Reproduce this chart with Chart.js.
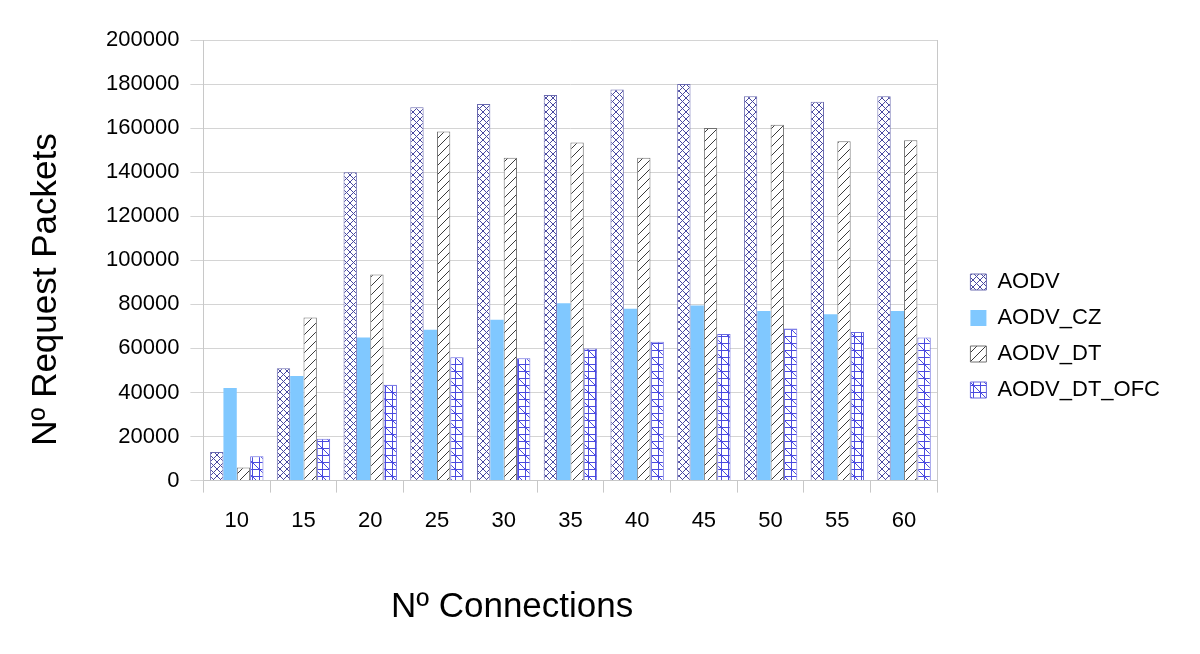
<!DOCTYPE html>
<html>
<head>
    <title>Request Packets</title>
    <script src="https://cdn.jsdelivr.net/npm/chart.js"></script>
    <style>
        body { margin: 0; background: #fff; }
        #wrap { width: 1200px; height: 654px; }
    </style>
</head>
<body>
    <div id="wrap">
        <canvas id="packetChart"></canvas>
    </div>

    <script>
        const connections = ['10', '15', '20', '25', '30', '35', '40', '45', '50', '55', '60'];
        const aodv = [13000, 51000, 140000, 169500, 171000, 175000, 177500, 180000, 174500, 172000, 174500];
        const aodvCz = [42000, 47500, 65000, 68500, 73000, 80500, 78000, 79500, 77000, 75500, 77000];
        const aodvDt = [6000, 74000, 93500, 158500, 146500, 153500, 146500, 160000, 161500, 154000, 154500];
        const aodvDtOfc = [11000, 19000, 43500, 56000, 55500, 60000, 63000, 66500, 69000, 67500, 65000];
        const yTicks = [0, 20000, 40000, 60000, 80000, 100000, 120000, 140000, 160000, 180000, 200000];

        const FONT = 'Liberation Sans, Arial, sans-serif';
        const NB = '\u00a0';

        // small tiles used as hatch fills
        function hatch(w, h, draw) {
            const c = document.createElement('canvas');
            c.width = w;
            c.height = h;
            const g = c.getContext('2d');
            g.fillStyle = '#ffffff';
            g.fillRect(0, 0, w, h);
            g.lineWidth = 1;
            draw(g);
            return g.createPattern(c, 'repeat');
        }

        const crossFill = hatch(7, 7, g => {
            g.strokeStyle = '#4848a0';
            g.beginPath();
            g.moveTo(0, 0); g.lineTo(7, 7);
            g.moveTo(0, 7); g.lineTo(7, 0);
            g.stroke();
        });

        const slashFill = hatch(9, 9, g => {
            g.strokeStyle = '#3a3a3a';
            g.beginPath();
            g.moveTo(-1, 10); g.lineTo(10, -1);
            g.stroke();
        });

        const gridFill = hatch(14, 14, g => {
            g.strokeStyle = '#4a4ae0';
            g.beginPath();
            g.moveTo(0.5, 0); g.lineTo(0.5, 14);
            g.moveTo(7.5, 0); g.lineTo(7.5, 14);
            g.moveTo(0, 0.5); g.lineTo(14, 0.5);
            g.moveTo(0, 7.5); g.lineTo(14, 7.5);
            g.moveTo(0, 0); g.lineTo(14, 14);
            g.stroke();
        });

        // right edge of the plot frame
        const frame = {
            id: 'frame',
            afterDraw(chart) {
                const {ctx, chartArea} = chart;
                ctx.save();
                ctx.strokeStyle = '#c8c8c8';
                ctx.lineWidth = 1;
                ctx.beginPath();
                ctx.moveTo(Math.round(chartArea.right) + 0.5, chartArea.top);
                ctx.lineTo(Math.round(chartArea.right) + 0.5, chartArea.bottom);
                ctx.stroke();
                ctx.restore();
            }
        };

        // leave a gap between the plot and the legend
        const GAP = 19;
        const legendGap = {
            id: 'legendGap',
            beforeLayout(chart) {
                const lg = chart.legend;
                if (lg && !lg.gapPatched) {
                    const fit = lg.fit;
                    lg.fit = function () { fit.call(this); this.width += GAP; };
                    lg.gapPatched = true;
                }
            },
            afterLayout(chart) {
                if (chart.legend) chart.legend.left += GAP;
            }
        };

        const ctx = document.getElementById('packetChart').getContext('2d');
        new Chart(ctx, {
            type: 'bar',
            data: {
                labels: connections,
                datasets: [
                    { label: 'AODV', data: aodv, backgroundColor: crossFill, borderColor: '#6a6ab0', borderWidth: 1 },
                    { label: 'AODV_CZ', data: aodvCz, backgroundColor: '#80c8ff', borderColor: '#80c8ff', borderWidth: 0 },
                    { label: 'AODV_DT', data: aodvDt, backgroundColor: slashFill, borderColor: '#707070', borderWidth: 1 },
                    { label: 'AODV_DT_OFC', data: aodvDtOfc, backgroundColor: gridFill, borderColor: '#6a6ae0', borderWidth: 1 }
                ]
            },
            plugins: [frame, legendGap],
            options: {
                responsive: true,
                maintainAspectRatio: false,
                animation: false,
                layout: { padding: { left: 11, right: 30, top: 40, bottom: 22 } },
                datasets: { bar: { categoryPercentage: 0.8, barPercentage: 1.0 } },
                plugins: {
                    tooltip: { enabled: false },
                    legend: {
                        position: 'right',
                        labels: {
                            color: '#000',
                            boxWidth: 16,
                            boxHeight: 16,
                            padding: 14,
                            font: { family: FONT, size: 22 }
                        }
                    }
                },
                scales: {
                    x: {
                        grid: { display: true, drawOnChartArea: false, tickLength: 12, color: '#c8c8c8', offset: true },
                        border: { color: '#c8c8c8' },
                        ticks: { color: '#000', padding: 15, font: { family: FONT, size: 22 } },
                        title: {
                            display: true,
                            text: 'Nº Connections' + NB.repeat(12),
                            color: '#000',
                            font: { family: FONT, size: 35 },
                            padding: { top: 37, bottom: 4 }
                        }
                    },
                    y: {
                        min: 0,
                        max: 200000,
                        afterBuildTicks: axis => { axis.ticks = yTicks.map(v => ({ value: v })); },
                        grid: { color: '#d4d4d4', tickLength: 13 },
                        border: { color: '#c8c8c8' },
                        ticks: { color: '#000', padding: 11, font: { family: FONT, size: 22 }, callback: v => String(v) },
                        title: {
                            display: true,
                            text: 'Nº Request Packets' + NB.repeat(6),
                            color: '#000',
                            font: { family: FONT, size: 35 },
                            padding: { top: 14, bottom: 28 }
                        }
                    }
                }
            }
        });
    </script>
</body>
</html>
